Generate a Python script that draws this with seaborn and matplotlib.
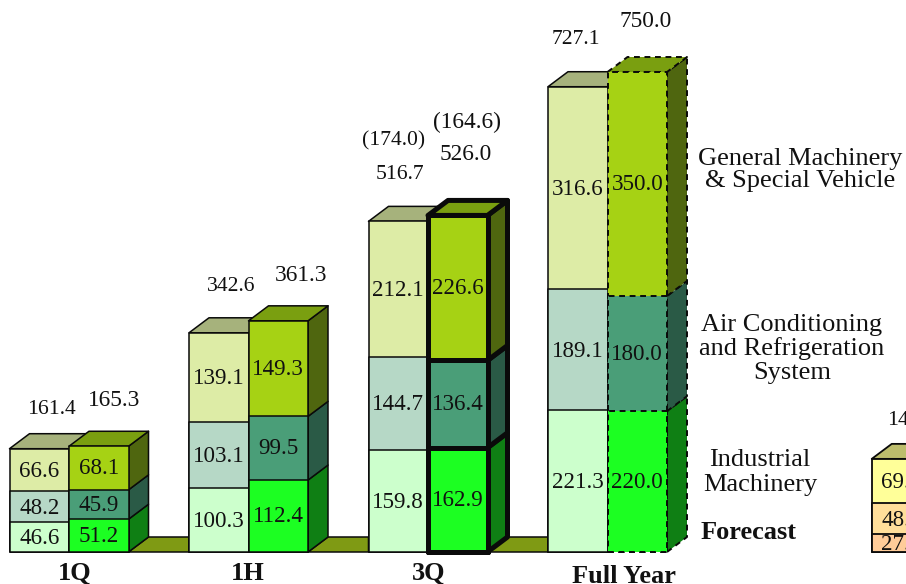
import matplotlib
matplotlib.use("Agg")
import matplotlib.pyplot as plt
from matplotlib.transforms import Affine2D
import seaborn as sns

sns.set_theme(style="white")
plt.rcParams["font.family"] = ["Liberation Serif", "DejaVu Serif"]

# Segment values, bottom to top: industrial, air conditioning, general machinery
periods = ["1Q", "1H", "3Q", "Full Year"]
prior_industrial = [46.6, 100.3, 159.8, 221.3]
prior_air = [48.2, 103.1, 144.7, 189.1]
prior_general = [66.6, 139.1, 212.1, 316.6]
current_industrial = [51.2, 112.4, 162.9, 220.0]
current_air = [45.9, 99.5, 136.4, 180.0]
current_general = [68.1, 149.3, 226.6, 350.0]
prior_totals = ["161.4", "342.6", "516.7", "727.1"]
current_totals = ["165.3", "361.3", "526.0", "750.0"]
next_panel = [27.5, 48.5, 69.5]

prior_face = ["#CCFFCC", "#B6D8C6", "#DDECA6"]
prior_top = "#A6B27C"
current_face = ["#1CFF22", "#4A9E78", "#A6D214"]
current_side = ["#0F7F14", "#2A5A46", "#4F660F"]
current_top = "#7A9F10"
next_face = ["#FFCC99", "#FFDE9A", "#FFFF99"]
next_top = "#BDBD6C"
floor_color = "#7F9A14"

W, H = 906, 584
PX_PER_GROUP = 179.5
PX_PER_UNIT = 0.64
X0, BASE = 69.0, 552.0
BAR = 59.5 / PX_PER_GROUP
DX = 20.0 / PX_PER_GROUP
DY = 15.0 / PX_PER_UNIT
VALUE_SIZE = 16.6
TEXT_DROP = 2.5

fig = plt.figure(figsize=(W / 100, H / 100), dpi=100)
ax = fig.add_axes([0, 0, 1, 1])
xlim = (-X0 / PX_PER_GROUP, (W - X0) / PX_PER_GROUP)
ylim = (-(H - BASE) / PX_PER_UNIT, BASE / PX_PER_UNIT)
pixels = Affine2D().scale(1 / W, -1 / H).translate(0, 1) + fig.transFigure


def label(px, py, text, size=16.6, **kw):
    kw.setdefault("ha", "center")
    ax.text(px, py + TEXT_DROP, text, transform=pixels, fontsize=size, va="center",
            color="#111111", clip_on=False, **kw)


def stack(x, values, faces, lw=1.1, ls="-", top=None, sides=None):
    """Stacked column with optional top and right faces."""
    cums = [sum(values[:i + 1]) for i in range(len(values))]
    style = dict(edgecolor="#0a0a0a", linewidth=lw, linestyle=ls, joinstyle="round")
    right = x + BAR / 2
    if sides:
        for i, c in enumerate(sides):
            lo = cums[i - 1] if i else 0
            hi = cums[i]
            ax.fill([right, right + DX, right + DX, right],
                    [lo, lo + DY, hi + DY, hi], facecolor=c, **style)
    if top:
        hi = cums[-1]
        left = x - BAR / 2
        ax.fill([left, left + DX, right + DX, right],
                [hi, hi + DY, hi + DY, hi], facecolor=top, **style)
    for i in reversed(range(len(values))):
        sns.barplot(x=[x], y=[cums[i]], native_scale=True, width=BAR,
                    color=faces[i], saturation=1, ax=ax, **style)
    return cums


# Floor strips joining each pair of columns to the next period
for g in range(len(periods) - 1):
    a = g + BAR
    b = g + 1 - BAR
    ax.fill([a, a + DX, b, b], [0, DY, DY, 0], facecolor=floor_color,
            edgecolor="#0a0a0a", linewidth=1.1)

for g, period in enumerate(periods):
    prior = [prior_industrial[g], prior_air[g], prior_general[g]]
    cums = stack(g - BAR / 2, prior, prior_face, top=prior_top)
    for i, v in enumerate(prior):
        ax.text(g - BAR / 2, cums[i] - v / 2 - 2, f"{v:.1f}", fontsize=VALUE_SIZE,
                ha="center", va="center", color="#111111")

    current = [current_industrial[g], current_air[g], current_general[g]]
    lw, ls = 1.1, "-"
    if period == "3Q":
        lw = 3.6
    if period == "Full Year":
        lw, ls = 1.4, (0, (3, 2.4))
    cums = stack(g + BAR / 2, current, current_face, lw=lw, ls=ls,
                 top=current_top, sides=current_side)
    for i, v in enumerate(current):
        ax.text(g + BAR / 2, cums[i] - v / 2 - 1, f"{v:.1f}", fontsize=VALUE_SIZE,
                ha="center", va="center", color="#111111")

# Left column of the neighbouring panel, running off the right edge
next_x = (901.5 - X0) / PX_PER_GROUP
cums = stack(next_x, next_panel, next_face, top=next_top, lw=1.3)
for v, c in zip(next_panel, cums):
    ax.text(next_x, c - v / 2 - 2, f"{v:.1f}", fontsize=VALUE_SIZE, ha="center",
            va="center", color="#111111")

ax.set_xlim(*xlim)
ax.set_ylim(*ylim)
ax.axis("off")

# Totals above the columns
for (px, py), t in zip([(51, 407), (231, 284), (400, 172), (576, 37)], prior_totals):
    label(px, py, t, size=15.6)
for (px, py), t in zip([(114, 398), (301, 273), (466, 152), (646, 19)], current_totals):
    label(px, py, t, size=16.8)
label(394, 138, "(174.0)", size=15.6)
label(467, 120, "(164.6)", size=16.8)
label(887, 418, "145.5", size=15.6, ha="left")

# Period names
for (px, py), t in zip([(75, 571), (248, 571), (429, 571), (624, 574)], periods):
    label(px, py, t, size=19, fontweight="bold")

# Segment names and the forecast note
label(800, 156, "General Machinery", size=19)
label(800, 179, "& Special Vehicle", size=19)
label(792, 322, "Air Conditioning", size=19)
label(792, 346, "and Refrigeration", size=19)
label(792, 370, "System", size=19)
label(760, 458, "Industrial", size=19)
label(760, 482, "Machinery", size=19)
label(749, 530, "Forecast", size=19, fontweight="bold")

fig.savefig("out.png", dpi=100)
